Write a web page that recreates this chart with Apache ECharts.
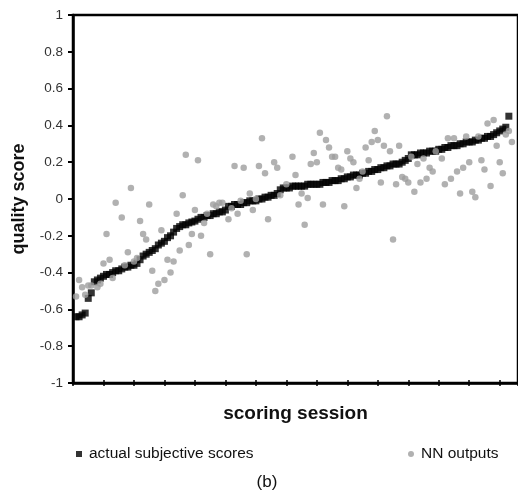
<!DOCTYPE html>
<html>
<head>
<meta charset="utf-8">
<script src="https://cdn.jsdelivr.net/npm/echarts@6/dist/echarts.min.js"></script>
<style>
html,body{margin:0;padding:0;background:#fff;}
#chart{width:518px;height:498px;}
</style>
</head>
<body>
<div id="chart"></div>
<script>
// Data
var actualScores = [
-0.64,-0.64,-0.63,-0.62,-0.54,-0.51,-0.45,-0.44,-0.43,-0.42,
-0.41,-0.41,-0.40,-0.39,-0.39,-0.38,-0.37,-0.37,-0.36,-0.36,
-0.35,-0.33,-0.31,-0.30,-0.29,-0.28,-0.27,-0.25,-0.24,-0.23,
-0.21,-0.20,-0.18,-0.16,-0.15,-0.14,-0.14,-0.13,-0.125,-0.12,
-0.11,-0.10,-0.10,-0.09,-0.09,-0.08,-0.08,-0.07,-0.07,-0.06,
-0.04,-0.04,-0.03,-0.03,-0.03,-0.02,-0.02,-0.01,-0.01,-0.01,
0.00,0.00,0.01,0.01,0.02,0.02,0.03,0.05,0.06,0.06,
0.06,0.07,0.07,0.07,0.07,0.07,0.08,0.08,0.08,0.08,
0.08,0.09,0.09,0.09,0.10,0.10,0.10,0.11,0.11,0.12,
0.12,0.13,0.13,0.13,0.14,0.14,0.15,0.15,0.16,0.16,
0.17,0.17,0.18,0.18,0.19,0.19,0.19,0.20,0.21,0.22,
0.24,0.24,0.24,0.25,0.25,0.25,0.26,0.26,0.26,0.27,
0.27,0.28,0.28,0.29,0.29,0.29,0.30,0.30,0.31,0.31,
0.31,0.32,0.32,0.33,0.33,0.34,0.34,0.35,0.36,0.37,
0.38,0.39,0.45
];
var nnOutputs = [
-0.53,-0.44,-0.48,-0.52,-0.47,-0.47,null,-0.48,-0.46,-0.35,
-0.19,-0.33,-0.43,-0.02,null,-0.10,-0.36,-0.29,0.06,-0.34,
-0.32,-0.12,-0.19,-0.22,-0.03,-0.39,-0.50,-0.46,-0.17,-0.44,
-0.33,-0.40,-0.34,-0.08,-0.28,0.02,0.24,-0.25,-0.19,-0.06,
0.21,-0.20,-0.13,-0.08,-0.30,-0.03,-0.04,-0.02,-0.02,null,
-0.11,-0.05,0.18,-0.08,-0.01,0.17,-0.30,0.03,-0.06,0.00,
0.18,0.33,0.14,-0.11,null,0.20,0.17,0.02,null,0.08,
null,0.23,0.13,-0.03,0.03,-0.14,0.005,0.19,0.25,0.20,
0.36,-0.03,0.32,0.28,0.23,0.23,0.17,0.16,-0.04,0.26,
0.22,0.20,0.06,0.11,0.15,0.28,0.21,0.31,0.37,0.32,
0.09,0.29,0.45,0.26,-0.22,0.08,0.29,0.12,0.11,0.09,
0.23,0.04,0.19,0.09,0.22,0.11,0.17,0.15,0.26,null,
0.22,0.08,0.33,0.11,0.33,0.15,0.03,0.17,0.34,0.20,
0.04,0.01,0.34,0.21,0.16,0.41,0.07,0.43,0.29,0.20,
0.14,0.35,0.37,0.31
];
var yTicks = {min:-1, max:1, step:0.2};
var xTicks = {min:0, max:146, step:10};
var seriesNames = ['actual subjective scores', 'NN outputs'];

function pairs(arr){
  var out = [];
  for (var i = 0; i < arr.length; i++) {
    if (arr[i] !== null) out.push([i + 1, arr[i]]);
  }
  return out;
}

var chart = echarts.init(document.getElementById('chart'), null, {renderer:'canvas'});
var FONT = '"Liberation Sans", Arial, sans-serif';
var GRID_W = 451, GRID_H = 368;
var option = {
  animation: false,
  backgroundColor: '#ffffff',
  textStyle: {fontFamily: FONT},
  grid: {left: 73, top: 15, width: GRID_W, height: GRID_H, show: true, borderColor: '#000', borderWidth: 2.5, backgroundColor: 'transparent'},
  xAxis: [{
    type: 'value', min: xTicks.min, max: xTicks.max, interval: xTicks.step,
    position: 'bottom',
    axisLine: {show: true, onZero: false, lineStyle: {color: '#000', width: 2.5}},
    axisTick: {show: true, length: 3, lineStyle: {color: '#000', width: 1.5}},
    axisLabel: {show: false},
    splitLine: {show: false},
    name: 'scoring session', nameLocation: 'middle', nameGap: 21,
    nameTextStyle: {fontFamily: FONT, fontSize: 19, fontWeight: 'bold', color: '#111'}
  }, {
    type: 'value', min: xTicks.min, max: xTicks.max, interval: xTicks.step,
    position: 'top', offset: -GRID_H,
    axisLine: {show: false},
    axisTick: {show: true, length: 3, lineStyle: {color: '#000', width: 1.5}},
    axisLabel: {show: false},
    splitLine: {show: false}
  }],
  yAxis: [{
    type: 'value', min: yTicks.min, max: yTicks.max, interval: yTicks.step,
    position: 'left',
    axisLine: {show: true, onZero: false, lineStyle: {color: '#000', width: 2.5}},
    axisTick: {show: true, length: 5, lineStyle: {color: '#000', width: 2}},
    axisLabel: {show: true, margin: 10, fontFamily: FONT, fontSize: 13.5, color: '#333'},
    splitLine: {show: false},
    name: 'quality score', nameLocation: 'middle', nameGap: 45,
    nameTextStyle: {fontFamily: FONT, fontSize: 18, fontWeight: 'bold', color: '#111'}
  }, {
    type: 'value', min: yTicks.min, max: yTicks.max, interval: yTicks.step,
    position: 'right', offset: -GRID_W,
    axisLine: {show: false},
    axisTick: {show: true, length: 5, lineStyle: {color: '#000', width: 2}},
    axisLabel: {show: false},
    splitLine: {show: false}
  }],
  legend: [{
    data: [{name: seriesNames[0], icon: 'rect'}],
    left: 71, top: 441, itemWidth: 6, itemHeight: 6, itemGap: 4,
    textStyle: {fontFamily: FONT, fontSize: 15.5, color: '#111', padding: [0, 0, 0, 2]}
  }, {
    data: [{name: seriesNames[1], icon: 'circle'}],
    left: 403, top: 441, itemWidth: 6, itemHeight: 6, itemGap: 4,
    textStyle: {fontFamily: FONT, fontSize: 15.5, color: '#111', padding: [0, 0, 0, 2]}
  }],
  graphic: [{
    type: 'text', x: 267, y: 482,
    style: {text: '(b)', font: '17px "Liberation Sans", Arial, sans-serif', fill: '#111', textAlign: 'center', textVerticalAlign: 'middle'}
  }],
  series: [{
    name: seriesNames[0], type: 'scatter', xAxisIndex: 0, yAxisIndex: 0,
    symbol: 'rect', symbolSize: 7,
    itemStyle: {color: '#000'},
    data: pairs(actualScores)
  }, {
    name: seriesNames[1], type: 'scatter', xAxisIndex: 0, yAxisIndex: 0,
    symbol: 'circle', symbolSize: 6.5,
    itemStyle: {color: '#9e9e9e'},
    data: pairs(nnOutputs)
  }]
};
chart.setOption(option);
</script>
</body>
</html>
